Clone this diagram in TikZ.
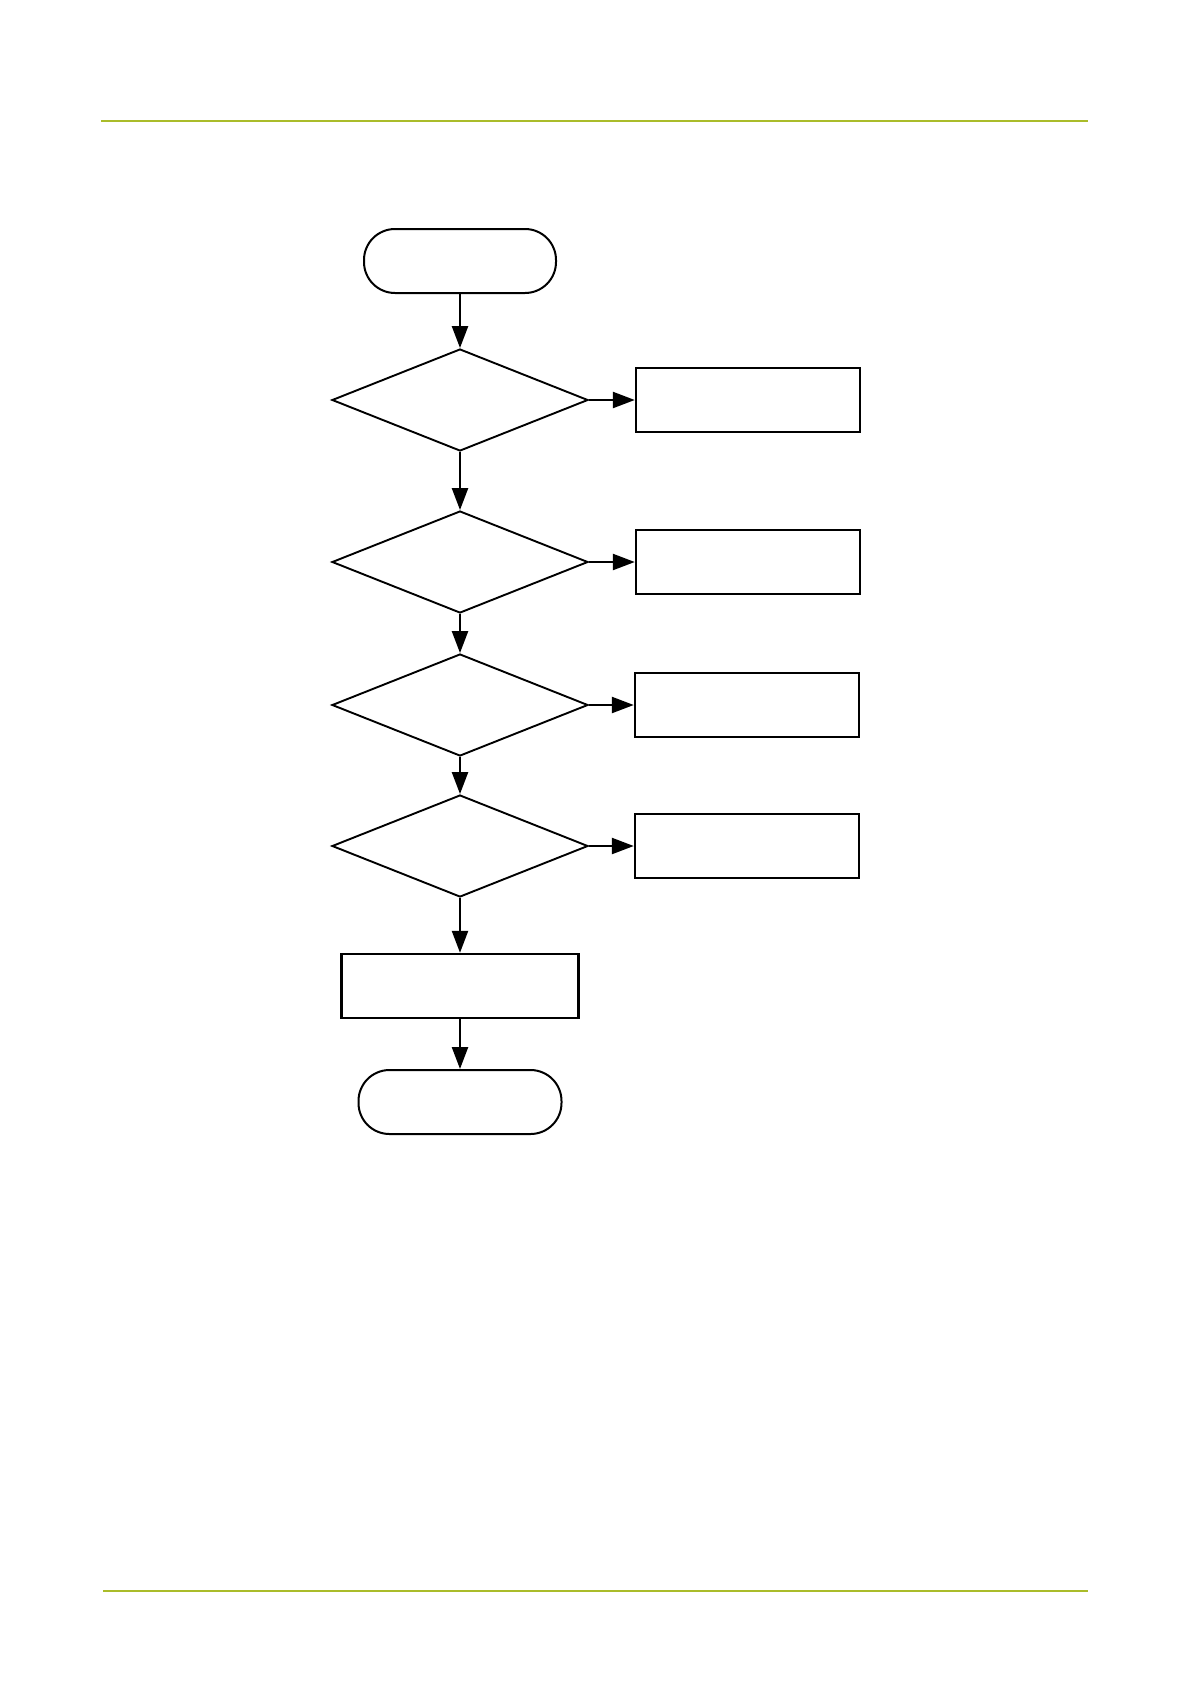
\documentclass[tikz,border=0pt]{standalone}
\usetikzlibrary{shapes.geometric,arrows.meta}
\definecolor{rulegreen}{RGB}{170,188,42}
\begin{document}
\begin{tikzpicture}[x=1pt,y=-1pt,
  term/.style={draw,line width=2pt,rounded corners=31pt,minimum width=#1,minimum height=64pt,inner sep=0pt},
  decide/.style={draw,shape=diamond,line width=1.9pt,minimum width=256pt,minimum height=102pt,inner sep=0pt},
  procbox/.style={draw,line width=2.4pt,minimum width=#1,minimum height=64pt,inner sep=0pt},
  flow/.style={line width=2.4pt,-{Triangle[length=22pt,width=16pt]}},
  hrule/.style={draw=rulegreen,line width=2.2pt}]
\useasboundingbox (0,0) rectangle (1191,1684);
\coordinate (t1) at (101,121);
\coordinate (t2) at (1088,121);
\coordinate (b1) at (103,1591);
\coordinate (b2) at (1088,1591);
\draw[hrule] (t1) -- (t2);
\draw[hrule] (b1) -- (b2);

\node[term=192pt] (start) at (460,261) {};
\node[decide] (d1) at (460,400) {};
\node[procbox=224pt] (r1) at (748,400) {};
\node[decide] (d2) at (460,562) {};
\node[procbox=224pt] (r2) at (748,562) {};
\node[decide] (d3) at (460,705) {};
\node[procbox=224pt] (r3) at (747,705) {};
\node[decide] (d4) at (460,846) {};
\node[procbox=224pt] (r4) at (747,846) {};
\node[procbox=237pt] (p5) at (460,986) {};
\node[term=203pt] (stop) at (460,1102) {};

\draw[flow] (start) -- (d1);
\draw[flow] (d1) -- (r1);
\draw[flow] (d1) -- (d2);
\draw[flow] (d2) -- (r2);
\draw[flow] (d2) -- (d3);
\draw[flow] (d3) -- (r3);
\draw[flow] (d3) -- (d4);
\draw[flow] (d4) -- (r4);
\draw[flow] (d4) -- (p5);
\draw[flow] (p5) -- (stop);
\end{tikzpicture}
\end{document}
